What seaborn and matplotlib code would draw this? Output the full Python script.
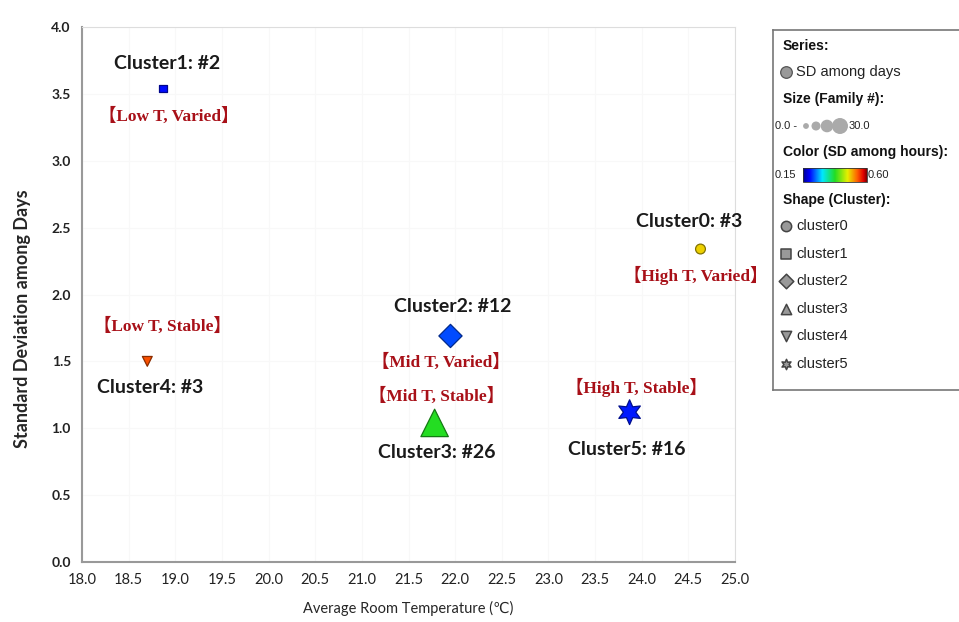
import numpy as np
import pandas as pd
import matplotlib
matplotlib.use("Agg")
import matplotlib.pyplot as plt
from matplotlib.patches import Rectangle
from matplotlib.colors import LinearSegmentedColormap
import seaborn as sns

# cluster data
clusters = ["cluster0", "cluster1", "cluster2", "cluster3", "cluster4", "cluster5"]
avg_temp = [24.63, 18.87, 21.95, 21.78, 18.70, 23.87]
sd_days = [2.34, 3.54, 1.69, 1.04, 1.50, 1.12]
sd_hours = [0.48, 0.20, 0.225, 0.375, 0.54, 0.205]
family_n = [3, 2, 12, 26, 3, 16]
zone_tags = ["【High T, Varied】", "【Low T, Varied】", "【Mid T, Varied】",
             "【Mid T, Stable】", "【Low T, Stable】", "【High T, Stable】"]
x_ticks = np.arange(18.0, 25.01, 0.5)
y_ticks = np.arange(0.0, 4.01, 0.5)

df = pd.DataFrame({"temp": avg_temp, "sd_days": sd_days, "sd_hours": sd_hours,
                   "family": family_n, "cluster": clusters})

marker_map = {"cluster0": "o", "cluster1": "s", "cluster2": "D",
              "cluster3": "^", "cluster4": "v", "cluster5": (6, 1, 0)}
size_map = {2: 30, 3: 50, 12: 140, 16: 320, 26: 390}
rainbow = LinearSegmentedColormap.from_list("sd_rainbow", [
    (0.0, "#000090"), (0.1, "#0000ff"), (0.3, "#00e8ff"), (0.5, "#22dd22"),
    (0.7, "#e8f000"), (0.85, "#ff6000"), (0.95, "#e00000"), (1.0, "#800000")])

sns.set_style("white")
plt.rcParams["font.family"] = ["Lato", "DejaVu Sans"]

fig = plt.figure(figsize=(9.59, 6.22), dpi=100)
ax = fig.add_axes([82 / 959, 60 / 622, (735 - 82) / 959, (562 - 27) / 622])

sns.scatterplot(data=df, x="temp", y="sd_days", hue="sd_hours", palette=rainbow,
                hue_norm=(0.15, 0.60), size="family", sizes=size_map,
                style="cluster", markers=marker_map, linewidth=0.9,
                legend=False, ax=ax, zorder=3)
coll = ax.collections[0]
fc = coll.get_facecolors()
ec = fc.copy()
ec[:, :3] *= 0.55
coll.set_edgecolors(ec)

ax.set_xlim(18.0, 25.0)
ax.set_ylim(0.0, 4.0)
ax.set_xticks(x_ticks)
ax.set_yticks(y_ticks)
ax.set_xticklabels([f"{v:.1f}" for v in x_ticks], fontsize=10.5)
ax.set_yticklabels([f"{v:.1f}" for v in y_ticks], fontsize=10, fontweight="bold")
ax.tick_params(length=0, pad=8, colors="#222222")
ax.grid(True, color="#f8f8f8", linewidth=0.8)
for s in ["top", "right"]:
    ax.spines[s].set_color("#dddddd")
for s in ["left", "bottom"]:
    ax.spines[s].set_color("#999999")
    ax.spines[s].set_linewidth(1.5)
ax.set_xlabel("Average Room Temperature (℃)", fontsize=10.5, labelpad=10)
ax.set_ylabel("Standard Deviation among Days", fontsize=13, fontweight="bold")
ax.yaxis.set_label_coords(-0.078, 0.455)

# label offsets in pixels (name label, zone tag)
name_off = [(-11, 28), (4, 25), (2, 29), (2, -30), (3, -26), (-3, -37)]
tag_off = [(-5, -26), (6, -28), (-10, -26), (2, 27), (15, 35), (7, 25)]
for i, c in enumerate(clusters):
    xy = (avg_temp[i], sd_days[i])
    ax.annotate(f"Cluster{c[-1]}: #{family_n[i]}", xy, xytext=name_off[i],
                textcoords="offset pixels", ha="center", va="center",
                fontsize=14, fontweight="bold", color="#1a1a1a")
    ax.annotate(zone_tags[i], xy, xytext=tag_off[i], textcoords="offset pixels",
                ha="center", va="center", fontsize=12.5, fontweight="bold",
                color="#a81018", family=["Liberation Serif", "Noto Sans CJK SC"])

# legend panel drawn in pixel coordinates
lg = fig.add_axes([773 / 959, (622 - 390) / 622, (975 - 773) / 959, 360 / 622])
lg.set_xticks([])
lg.set_yticks([])
for s in lg.spines.values():
    s.set_color("#777777")
    s.set_linewidth(1.2)

lfont = dict(family=["Liberation Sans", "DejaVu Sans"], fontsize=10.5, va="center",
             color="#222222")
hfont = dict(family=["Liberation Sans", "DejaVu Sans"], fontsize=10, va="center",
             fontweight="bold", color="#111111")
sfont = dict(family=["Liberation Sans", "DejaVu Sans"], fontsize=8, va="center",
             color="#222222")
grey = "#999999"
lg.text(783, 46, "Series:", **hfont)
lg.scatter([786], [72], s=70, color=grey, edgecolor="#555555", linewidth=0.9)
lg.text(796, 72, "SD among days", **lfont)
lg.text(783, 99, "Size (Family #):", **hfont)
lg.text(775, 126, "0.0 -", **sfont)
lg.scatter([806, 816, 827, 840], [126, 126, 126, 126], s=[10, 30, 65, 110], color="#aaaaaa")
lg.text(849, 126, "30.0", **sfont)
lg.text(783, 152, "Color (SD among hours):", **hfont)
lg.text(775, 175, "0.15", **sfont)
grad = np.linspace(0, 1, 128).reshape(1, -1)
lg.imshow(grad, cmap=rainbow, extent=(803, 867, 182, 168), aspect="auto")
lg.add_patch(Rectangle((803, 168), 64, 14, fill=False, edgecolor="#333333", linewidth=0.6))
lg.text(868, 175, "0.60", **sfont)
lg.text(783, 200, "Shape (Cluster):", **hfont)
for i, c in enumerate(clusters):
    yy = 226 + i * 27.6
    lg.scatter([786], [yy], s=55, marker=marker_map[c], color=grey,
               edgecolor="#444444", linewidth=1.1)
    lg.text(796, yy, c, **lfont)
lg.set_xlim(773, 975)
lg.set_ylim(390, 30)

fig.savefig("out.png", dpi=100)
